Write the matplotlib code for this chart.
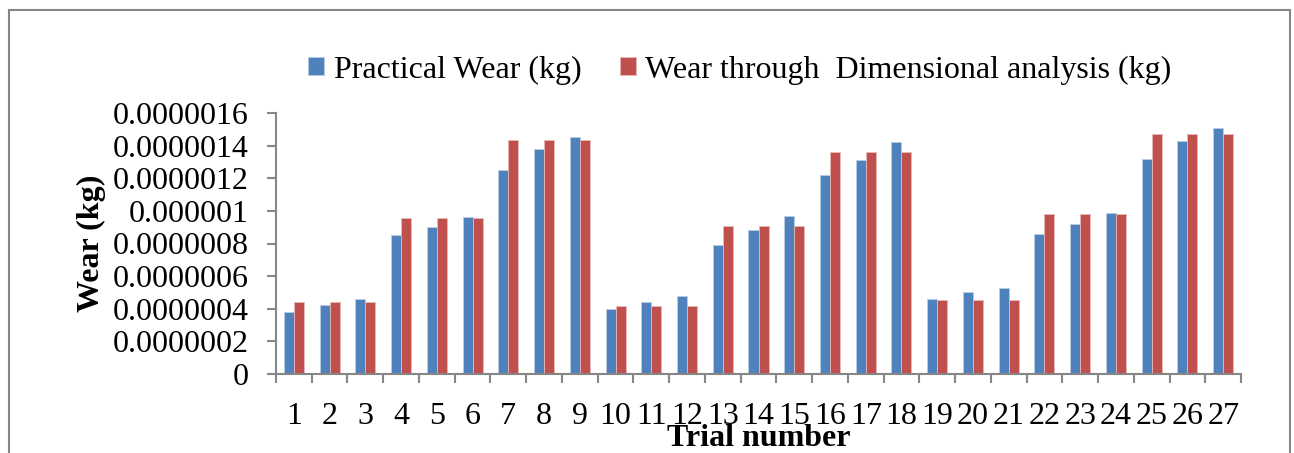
import matplotlib
matplotlib.use("Agg")
import matplotlib.pyplot as plt
import numpy as np
from matplotlib.patches import Rectangle

trials = [str(i) for i in range(1, 28)]
practical = [0.38, 0.42, 0.46, 0.85, 0.90, 0.96, 1.25, 1.38, 1.45,
             0.40, 0.44, 0.48, 0.79, 0.88, 0.97, 1.22, 1.31, 1.42,
             0.46, 0.50, 0.53, 0.86, 0.92, 0.99, 1.32, 1.43, 1.51]
dimensional = [0.44, 0.44, 0.44, 0.956, 0.956, 0.956, 1.433, 1.433, 1.433,
               0.417, 0.417, 0.417, 0.907, 0.907, 0.907, 1.361, 1.361, 1.361,
               0.452, 0.452, 0.452, 0.981, 0.981, 0.981, 1.473, 1.473, 1.473]
practical = [v * 1e-6 for v in practical]
dimensional = [v * 1e-6 for v in dimensional]
yticks = [0, 2e-7, 4e-7, 6e-7, 8e-7, 1e-6, 1.2e-6, 1.4e-6, 1.6e-6]
ytick_labels = ["0", "0.0000002", "0.0000004", "0.0000006", "0.0000008",
                "0.000001", "0.0000012", "0.0000014", "0.0000016"]

plt.rcParams['font.family'] = ['Liberation Serif', 'DejaVu Serif']

W, H = 1294, 453
fig = plt.figure(figsize=(W / 100, H / 100), dpi=100)
fig.patches.append(Rectangle((9 / W, -0.1), (1290 - 9) / W, 1.1 - 10 / H,
                             transform=fig.transFigure, fill=False,
                             edgecolor="#868686", linewidth=1.5))
ax = fig.add_axes([276 / W, 1 - 374 / H, (1241 - 276) / W, (374 - 113) / H])

x = np.arange(len(trials))
bw = 0.28
blue = "#4F81BD"
red = "#C0504D"
ax.bar(x - bw / 2, practical, bw, color=blue, edgecolor="#B9CDE5", linewidth=0.6,
       label="Practical Wear (kg)")
ax.bar(x + bw / 2, dimensional, bw, color=red, edgecolor="#E6B9B8", linewidth=0.6,
       label="Wear through  Dimensional analysis (kg)")

ax.set_xlim(-0.5, len(trials) - 0.5)
ax.set_ylim(0, 1.6e-6)
ax.set_yticks(yticks)
ax.set_yticklabels(ytick_labels, fontsize=23)
ax.set_xticks(x)
ax.set_xticklabels(trials, fontsize=23)
ax.set_xticks(np.arange(-0.5, len(trials)), minor=True)
ax.tick_params(axis='x', which='major', length=0, pad=20)
ax.tick_params(axis='x', which='minor', length=6.5, width=1.5, color="#868686", direction='out')
ax.tick_params(axis='y', which='major', length=6.5, width=1.5, color="#868686", pad=13)

for s in ['top', 'right']:
    ax.spines[s].set_visible(False)
for s in ['left', 'bottom']:
    ax.spines[s].set_color("#868686")
    ax.spines[s].set_linewidth(1.5)

ax.set_xlabel("Trial number", fontsize=23, fontweight='bold', labelpad=-5)
ax.set_ylabel("Wear (kg)", fontsize=23, fontweight='bold', labelpad=5)

h, l = ax.get_legend_handles_labels()
fig.legend(h, l, loc='center', bbox_to_anchor=(740 / W, 1 - 70 / H), ncol=2,
           frameon=False, fontsize=23, handlelength=0.5, handleheight=0.5,
           handletextpad=0.3, columnspacing=1.2)

fig.savefig("out.png", dpi=100)
